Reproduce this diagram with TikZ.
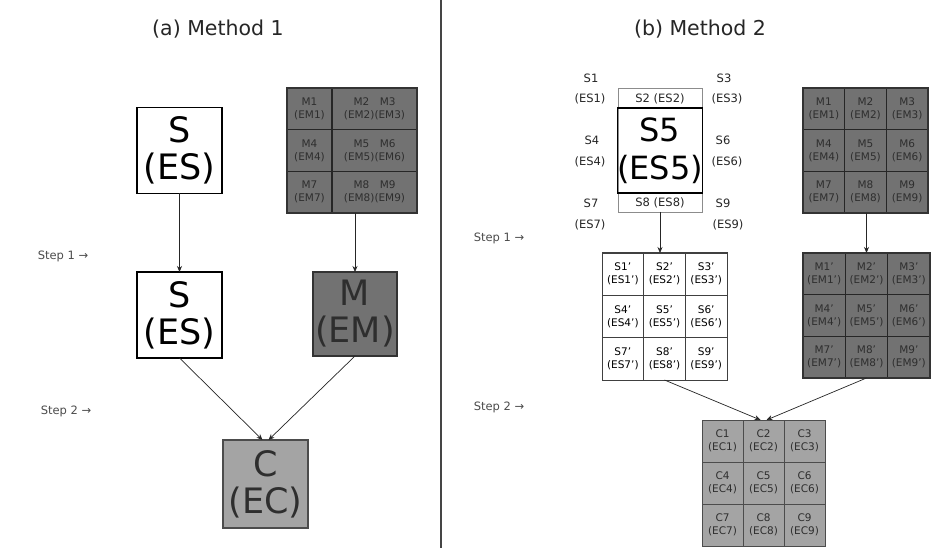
\documentclass[tikz,border=0pt]{standalone}
\usepackage{fontspec}
\setmainfont{DejaVu Sans}
\usetikzlibrary{arrows.meta}
\definecolor{dgray}{HTML}{727272}
\definecolor{mgray}{HTML}{A4A4A4}
\definecolor{celltext}{HTML}{2E2E2E}
\definecolor{divider}{HTML}{454545}
\begin{document}
\begin{tikzpicture}[x=1pt,y=-1pt,
  bigbox/.style={draw=black, line width=1.1pt, minimum width=85pt, minimum height=86pt,
    inner sep=0pt, outer sep=0pt, align=center, font=\fontsize{35}{37}\selectfont},
  graybig/.style={bigbox, fill=dgray, draw=black!80, text=celltext},
  cbig/.style={bigbox, fill=mgray, draw=black!70, text=celltext},
  cellbase/.style={inner sep=0pt, outer sep=0pt, align=center, font=\fontsize{10.5}{13}\selectfont},
  wcell/.style={cellbase, draw=black!75, line width=0.8pt, fill=white},
  dcell/.style={cellbase, draw=black!85, line width=1.1pt, fill=dgray, text=celltext},
  ccell/.style={cellbase, draw=black!70, line width=0.9pt, fill=mgray, text=celltext},
  frame/.style={draw=black!80, line width=1.2pt, inner sep=0pt, outer sep=0pt},
  lab/.style={inner sep=0pt, font=\fontsize{11.5}{13}\selectfont, text=black!85},
  steplab/.style={inner sep=0pt, font=\fontsize{11.5}{13}\selectfont, text=black!70},
  title/.style={inner sep=0pt, font=\fontsize{20.5}{24}\selectfont, text=black!85},
  conn/.style={draw=black!85, line width=0.7pt, -{Stealth[length=6pt,width=5pt]}}
]
\useasboundingbox[fill=white] (0,0) rectangle (943,548);

% divider
\draw[line width=2.8pt, divider] (441,0) -- (441,548);

% titles
\node[title] (ta) at (218,29) {(a) Method 1};
\node[title] (tb) at (700,29) {(b) Method 2};

% ===== Method 1 =====
\node[bigbox] (s1) at (179.5,150.5) {S\\(ES)};
\node[bigbox] (s2) at (179.5,315) {S\\(ES)};
\node[graybig, minimum width=84pt, minimum height=84pt] (m1) at (355,314) {M\\(EM)};
\node[cbig, minimum width=85pt, minimum height=88pt] (c1) at (265.5,484) {C\\(EC)};

% M grid (method 1)
\node[dcell, minimum width=45pt, minimum height=41.7pt] (ma1) at (309.5,108.8) {M1\\(EM1)};
\node[dcell, minimum width=85pt, minimum height=41.7pt] (ma2) at (374.5,108.8) {M2\quad M3\\(EM2)(EM3)};
\node[dcell, minimum width=45pt, minimum height=41.7pt] (ma4) at (309.5,150.5) {M4\\(EM4)};
\node[dcell, minimum width=85pt, minimum height=41.7pt] (ma5) at (374.5,150.5) {M5\quad M6\\(EM5)(EM6)};
\node[dcell, minimum width=45pt, minimum height=41.7pt] (ma7) at (309.5,192.2) {M7\\(EM7)};
\node[dcell, minimum width=85pt, minimum height=41.7pt] (ma8) at (374.5,192.2) {M8\quad M9\\(EM8)(EM9)};
\node[frame, minimum width=130pt, minimum height=125pt] (mg) at (352,150.5) {};

% step labels
\node[steplab] (st1a) at (63,256) {Step 1 →};
\node[steplab] (st2a) at (66,411) {Step 2 →};

% connectors
\draw[conn] (s1.south) -- (s2.north);
\draw[conn] (mg.south -| m1.north) -- (m1.north);
\draw[conn] (s2.south) -- ([xshift=-3pt]c1.north);
\draw[conn] (m1.south) -- ([xshift=3pt]c1.north);

% ===== Method 2 =====
% top S arrangement
\draw[black!45, line width=0.6pt] (618,88) rectangle (702,212);
\node[bigbox, minimum width=84pt, minimum height=85pt, font=\fontsize{32}{38}\selectfont] (s5) at (660,150.5) {S5\\(ES5)};
\coordinate (sgb) at (660,212);
\node[lab] (l1a) at (591,78) {S1};
\node[lab] (l1b) at (590,99) {(ES1)};
\node[lab] (l2) at (660,98.5) {S2 (ES2)};
\node[lab] (l3a) at (724,78) {S3};
\node[lab] (l3b) at (727,99) {(ES3)};
\node[lab] (l4a) at (592,140) {S4};
\node[lab] (l4b) at (590,162) {(ES4)};
\node[lab] (l6a) at (723,140) {S6};
\node[lab] (l6b) at (727,162) {(ES6)};
\node[lab] (l7a) at (591,203) {S7};
\node[lab] (l7b) at (590,225) {(ES7)};
\node[lab] (l8) at (660,203) {S8 (ES8)};
\node[lab] (l9a) at (723,203) {S9};
\node[lab] (l9b) at (728,225) {(ES9)};

% M grid (method 2, top)
\foreach \r in {1,2,3}{
  \foreach \c in {1,2,3}{
    \pgfmathtruncatemacro\n{(\r-1)*3+\c}
    \node[dcell, minimum width=41.67pt, minimum height=41.67pt] (mb\n) at ({803+(\c-0.5)*41.67},{88+(\r-0.5)*41.67}) {M\n\\(EM\n)};
  }
}
\node[frame, minimum width=125pt, minimum height=125pt] (mgb) at (865.5,150.5) {};

% S' grid
\foreach \r in {1,2,3}{
  \foreach \c in {1,2,3}{
    \pgfmathtruncatemacro\n{(\r-1)*3+\c}
    \node[wcell, minimum width=41.67pt, minimum height=42.33pt] (sp\n) at ({602+(\c-0.5)*41.67},{253+(\r-0.5)*42.33}) {S\n'\\(ES\n')};
  }
}
\node[draw=black!75, line width=1pt, inner sep=0pt, outer sep=0pt, minimum width=125pt, minimum height=127pt] (spg) at (664.5,316.5) {};

% M' grid
\foreach \r in {1,2,3}{
  \foreach \c in {1,2,3}{
    \pgfmathtruncatemacro\n{(\r-1)*3+\c}
    \node[dcell, minimum width=42.33pt, minimum height=41.67pt] (mp\n) at ({803+(\c-0.5)*42.33},{253+(\r-0.5)*41.67}) {M\n'\\(EM\n')};
  }
}
\node[frame, minimum width=127pt, minimum height=125pt] (mpg) at (866.5,315.5) {};

% C grid
\foreach \r in {1,2,3}{
  \foreach \c in {1,2,3}{
    \pgfmathtruncatemacro\n{(\r-1)*3+\c}
    \node[ccell, minimum width=41pt, minimum height=42pt] (cc\n) at ({702+(\c-0.5)*41},{420+(\r-0.5)*42}) {C\n\\(EC\n)};
  }
}
\node[draw=black!70, line width=1pt, inner sep=0pt, outer sep=0pt, minimum width=123pt, minimum height=126pt] (cg) at (763.5,483) {};

% step labels
\node[steplab] (st1b) at (499,238) {Step 1 →};
\node[steplab] (st2b) at (499,407) {Step 2 →};

% connectors
\draw[conn] (sgb) -- (sgb |- spg.north);
\draw[conn] (mgb.south -| mpg.north) -- (mpg.north);
\draw[conn] (spg.south) -- ([xshift=-3pt]cg.north);
\draw[conn] (mpg.south) -- ([xshift=3pt]cg.north);
\end{tikzpicture}
\end{document}
